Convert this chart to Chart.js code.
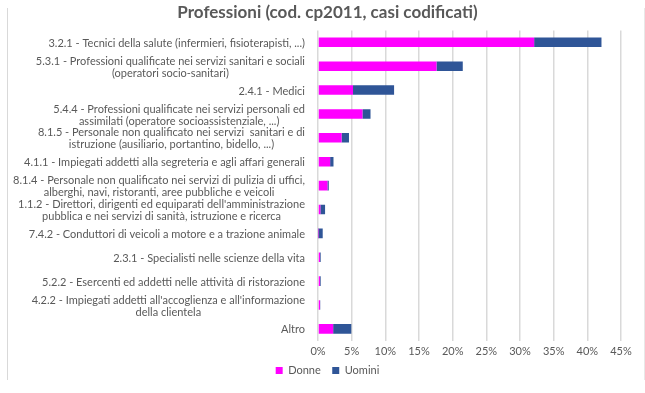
<!DOCTYPE html>
<html>
<head>
<meta charset="utf-8">
<script src="https://cdn.jsdelivr.net/npm/chart.js@4"></script>
<style>
  body { margin: 0; background: #fff; }
  #wrap { position: relative; width: 645px; height: 393px; }
  #frame { position: absolute; left: 7px; top: 8px; width: 636px; height: 372px;
           border-left: 1px solid #d9d9d9; border-right: 1px solid #e8e8e8; pointer-events: none; }
</style>
</head>
<body>
<div id="wrap">
  <canvas id="profChart"></canvas>
  <div id="frame"></div>
</div>
<script>
const categories = [
  "3.2.1 - Tecnici della salute (infermieri, fisioterapisti, ...)",
  ["5.3.1 - Professioni qualificate nei servizi sanitari e sociali", "(operatori socio-sanitari)"],
  "2.4.1 - Medici",
  ["5.4.4 - Professioni qualificate nei servizi personali ed", "assimilati (operatore socioassistenziale, ...)"],
  ["8.1.5 - Personale non qualificato nei servizi  sanitari e di", "istruzione (ausiliario, portantino, bidello, ...)"],
  "4.1.1 - Impiegati addetti alla segreteria e agli affari generali",
  ["8.1.4 - Personale non qualificato nei servizi di pulizia di uffici,", "alberghi, navi, ristoranti, aree pubbliche e veicoli"],
  ["1.1.2 - Direttori, dirigenti ed equiparati dell'amministrazione", "pubblica e nei servizi di sanità, istruzione e ricerca"],
  "7.4.2 - Conduttori di veicoli a motore e a trazione animale",
  "2.3.1 - Specialisti nelle scienze della vita",
  "5.2.2 - Esercenti ed addetti nelle attività di ristorazione",
  ["4.2.2 - Impiegati addetti all'accoglienza e all'informazione", "della clientela"],
  "Altro"
];
const donne  = [32.1, 17.6, 5.2, 6.6, 3.5, 1.8, 1.4, 0.35, 0.05, 0.3, 0.3, 0.3, 2.25];
const uomini = [10.0, 3.9, 6.1, 1.2, 1.1, 0.5, 0.2, 0.7, 0.65, 0.1, 0.1, 0.03, 2.7];
const xTicks = [0, 5, 10, 15, 20, 25, 30, 35, 40, 45];

const textGray = '#595959';
const labelFont = '11px Lato';

// draws the category labels: right-aligned block, lines centred inside the block
const catLabels = {
  id: 'catLabels',
  afterDraw(chart) {
    const ctx = chart.ctx;
    const y = chart.scales.y;
    const right = chart.chartArea.left - 13;
    ctx.save();
    ctx.font = labelFont;
    ctx.fillStyle = textGray;
    ctx.textAlign = 'center';
    ctx.textBaseline = 'middle';
    categories.forEach((lab, i) => {
      const lines = Array.isArray(lab) ? lab : [lab];
      const w = Math.max(...lines.map(l => ctx.measureText(l).width));
      const cx = right - w / 2;
      const cy = y.getPixelForValue(i);
      const lh = 12;
      lines.forEach((l, k) => {
        ctx.fillText(l, cx, cy + (k - (lines.length - 1) / 2) * lh + 1);
      });
    });
    ctx.restore();
  }
};

const ctx = document.getElementById('profChart').getContext('2d');
new Chart(ctx, {
  type: 'bar',
  data: {
    labels: categories,
    datasets: [
      { label: 'Donne', data: donne, backgroundColor: '#FF00FF' },
      { label: 'Uomini', data: uomini, backgroundColor: '#2F5597' }
    ]
  },
  options: {
    indexAxis: 'y',
    responsive: true,
    maintainAspectRatio: false,
    animation: false,
    layout: { padding: { left: 34, right: 24, bottom: 7 } },
    datasets: { bar: { categoryPercentage: 1, barPercentage: 0.4 } },
    scales: {
      x: {
        stacked: true,
        min: 0,
        max: 45,
        afterBuildTicks: s => { s.ticks = xTicks.map(v => ({ value: v })); },
        ticks: { color: textGray, font: { family: 'Lato', size: 11 }, callback: v => v + '%', padding: 4 },
        grid: { color: '#d9d9d9', lineWidth: 1.5, drawTicks: false },
        border: { display: false }
      },
      y: {
        stacked: true,
        ticks: { display: false },
        grid: { display: false },
        border: { display: false },
        afterFit: s => { s.width = 284; }
      }
    },
    plugins: {
      title: {
        display: true,
        text: 'Professioni (cod. cp2011, casi codificati)',
        color: textGray,
        font: { family: 'Lato', size: 17, weight: 'bold' },
        padding: { top: 2, bottom: 8 }
      },
      legend: {
        position: 'bottom',
        labels: {
          color: textGray, font: { family: 'Lato', size: 11 }, boxWidth: 7, boxHeight: 7, padding: 3,
          generateLabels: chart => Chart.defaults.plugins.legend.labels.generateLabels(chart)
            .map((l, i, all) => i < all.length - 1 ? Object.assign(l, { text: l.text + '   ' }) : l)
        }
      },
      tooltip: { enabled: false }
    }
  },
  plugins: [catLabels]
});
</script>
</body>
</html>
